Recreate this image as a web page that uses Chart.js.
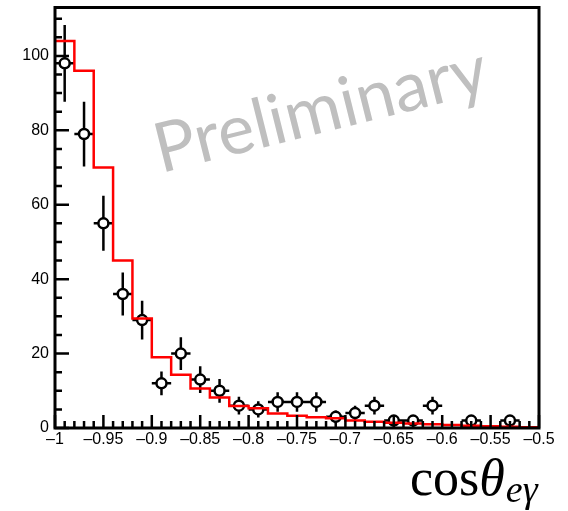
<!DOCTYPE html>
<html>
<head>
<meta charset="utf-8">
<script src="https://cdn.jsdelivr.net/npm/chart.js@4.4.1/dist/chart.umd.min.js"></script>
<style>
  body { margin: 0; background: #fff; }
</style>
</head>
<body>
<canvas id="chart" width="568" height="511"></canvas>
<script>
/* ===== cos(theta_e gamma) distribution: data vs MC ===== */

// bin low edges (width 0.02) and upper edge of the last bin
const BIN_LOW = [-1.00, -0.98, -0.96, -0.94, -0.92, -0.90, -0.88, -0.86, -0.84, -0.82,
                 -0.80, -0.78, -0.76, -0.74, -0.72, -0.70, -0.68, -0.66, -0.64, -0.62,
                 -0.60, -0.58, -0.56, -0.54, -0.52];
const LAST_EDGE = -0.50;
const BIN_CENTER = [-0.99, -0.97, -0.95, -0.93, -0.91, -0.89, -0.87, -0.85, -0.83, -0.81,
                    -0.79, -0.77, -0.75, -0.73, -0.71, -0.69, -0.67, -0.65, -0.63, -0.61,
                    -0.59, -0.57, -0.55, -0.53, -0.51];

// MC expectation (red histogram)
const MC_COUNTS = [104, 96, 70, 45, 29.4, 19, 14.3, 10.6, 8.2, 5.9,
                   5.3, 3.9, 3.3, 2.9, 2.6, 2.0, 1.7, 1.4, 1.2, 1.0,
                   0.8, 0.6, 0.5, 0.35, 0.2];

// data points and their vertical errors (null = empty bin)
const DATA_COUNTS = [98, 79, 55, 36, 29, 12, 20, 13, 10, 6,
                     5, 7, 7, 7, 3, 4, 6, 2, 2, 6,
                     null, 2, null, 2, null];
const DATA_ERR = [10.3, 8.7, 7.4, 5.8, 5.2, 3.2, 4.4, 3.6, 3.2, 2.4,
                  2.2, 2.6, 2.6, 2.6, 1.7, 2.0, 2.4, 1.4, 1.4, 2.4,
                  null, 1.4, null, 1.4, null];
const HALF_BIN = 0.01;

const X_TICKS = [-1, -0.95, -0.9, -0.85, -0.8, -0.75, -0.7, -0.65, -0.6, -0.55, -0.5];
const Y_TICKS = [0, 20, 40, 60, 80, 100];
const X_RANGE = [-1, -0.5];
const Y_RANGE = [0, 113];

const TICK_FONT = { family: '"Liberation Sans", Arial, sans-serif', size: 16 };

function formatX(v) {
  const r = Math.round(v * 100) / 100;
  if (r < 0) return '\u2013' + String(Math.abs(r));
  return String(r);
}

/* ---------- plugins ---------- */

const watermark = {
  id: 'watermark',
  beforeDatasetsDraw(chart) {
    const { ctx } = chart;
    ctx.save();
    ctx.translate(326, 132);
    ctx.rotate(-14 * Math.PI / 180);
    ctx.font = '69px Lato, "Open Sans", sans-serif';
    ctx.fillStyle = '#bfbfbf';
    ctx.textAlign = 'center';
    ctx.textBaseline = 'alphabetic';
    ctx.fillText('Preliminary', 0, 0);
    ctx.restore();
  },
};

const errorBars = {
  id: 'errorBars',
  beforeDatasetsDraw(chart) {
    const { ctx, scales: { x, y } } = chart;
    ctx.save();
    ctx.strokeStyle = '#000';
    ctx.lineWidth = 2.5;
    ctx.beginPath();
    BIN_CENTER.forEach((c, i) => {
      const v = DATA_COUNTS[i];
      if (v === null) return;
      const px = x.getPixelForValue(c);
      const py = y.getPixelForValue(v);
      ctx.moveTo(x.getPixelForValue(c - HALF_BIN), py);
      ctx.lineTo(x.getPixelForValue(c + HALF_BIN), py);
      ctx.moveTo(px, y.getPixelForValue(v - DATA_ERR[i]));
      ctx.lineTo(px, y.getPixelForValue(v + DATA_ERR[i]));
    });
    ctx.stroke();
    ctx.restore();
  },
};

const frame = {
  id: 'frame',
  afterDraw(chart) {
    const { ctx, chartArea: a, scales: { x, y } } = chart;
    ctx.save();
    ctx.strokeStyle = '#000';
    ctx.lineWidth = 2.5;
    ctx.beginPath();
    // x ticks, pointing inward
    for (let k = 0; k <= 50; k++) {
      const v = X_RANGE[0] + k * 0.01;
      const len = k % 5 === 0 ? 13 : 7;
      const px = x.getPixelForValue(v);
      ctx.moveTo(px, a.bottom);
      ctx.lineTo(px, a.bottom - len);
    }
    // y ticks
    for (let v = 0; v <= 110; v += 5) {
      const len = v % 20 === 0 ? 14 : 7;
      const py = y.getPixelForValue(v);
      ctx.moveTo(a.left, py);
      ctx.lineTo(a.left + len, py);
    }
    ctx.stroke();
    ctx.lineWidth = 3;
    ctx.strokeRect(a.left, a.top, a.right - a.left, a.bottom - a.top);

    // x axis title: cos theta_{e gamma}
    ctx.fillStyle = '#000';
    ctx.textBaseline = 'alphabetic';
    ctx.textAlign = 'left';
    let tx = 410;
    ctx.font = '52px "Liberation Serif", serif';
    ctx.fillText('cos', tx, 495);
    tx += ctx.measureText('cos').width;
    ctx.font = 'italic 52px "Liberation Serif", serif';
    ctx.fillText('θ', tx, 495);
    tx += ctx.measureText('θ').width + 1;
    ctx.font = 'italic 38px "Liberation Serif", serif';
    ctx.fillText('eγ', tx, 502);
    ctx.restore();
  },
};

/* ---------- chart ---------- */

const histPoints = BIN_LOW.map((e, i) => ({ x: e, y: MC_COUNTS[i] }));
histPoints.push({ x: LAST_EDGE, y: MC_COUNTS[MC_COUNTS.length - 1] });

const dataPoints = BIN_CENTER.map((c, i) => ({ x: c, y: DATA_COUNTS[i] }));

new Chart(document.getElementById('chart'), {
  type: 'scatter',
  data: {
    datasets: [
      {
        type: 'line',
        label: 'MC',
        data: histPoints,
        stepped: 'before',
        borderColor: '#ff0000',
        borderWidth: 2.5,
        pointRadius: 0,
        fill: false,
        order: 0,
      },
      {
        label: 'Data',
        data: dataPoints,
        pointRadius: 5,
        pointStyle: 'circle',
        backgroundColor: '#ffffff',
        borderColor: '#000000',
        borderWidth: 2.5,
        order: 1,
      },
    ],
  },
  options: {
    responsive: false,
    animation: false,
    layout: { padding: { top: 5, right: 29, left: 0, bottom: 0 } },
    scales: {
      x: {
        type: 'linear',
        min: X_RANGE[0],
        max: X_RANGE[1],
        grid: { display: false, drawTicks: false },
        border: { display: false },
        afterBuildTicks: s => { s.ticks = X_TICKS.map(v => ({ value: v })); },
        afterFit: s => { s.height = 83; s.paddingLeft = 0; s.paddingRight = 0; },
        ticks: {
          autoSkip: false,
          maxRotation: 0,
          padding: 2,
          color: '#000',
          font: TICK_FONT,
          callback: v => formatX(v),
        },
      },
      y: {
        min: Y_RANGE[0],
        max: Y_RANGE[1],
        grid: { display: false, drawTicks: false },
        border: { display: false },
        afterBuildTicks: s => { s.ticks = Y_TICKS.map(v => ({ value: v })); },
        afterFit: s => { s.width = 55; s.paddingTop = 0; s.paddingBottom = 0; },
        ticks: {
          padding: 6,
          color: '#000',
          font: TICK_FONT,
          callback: v => String(v),
        },
      },
    },
    plugins: {
      legend: { display: false },
      tooltip: { enabled: false },
    },
  },
  plugins: [watermark, errorBars, frame],
});
</script>
</body>
</html>
